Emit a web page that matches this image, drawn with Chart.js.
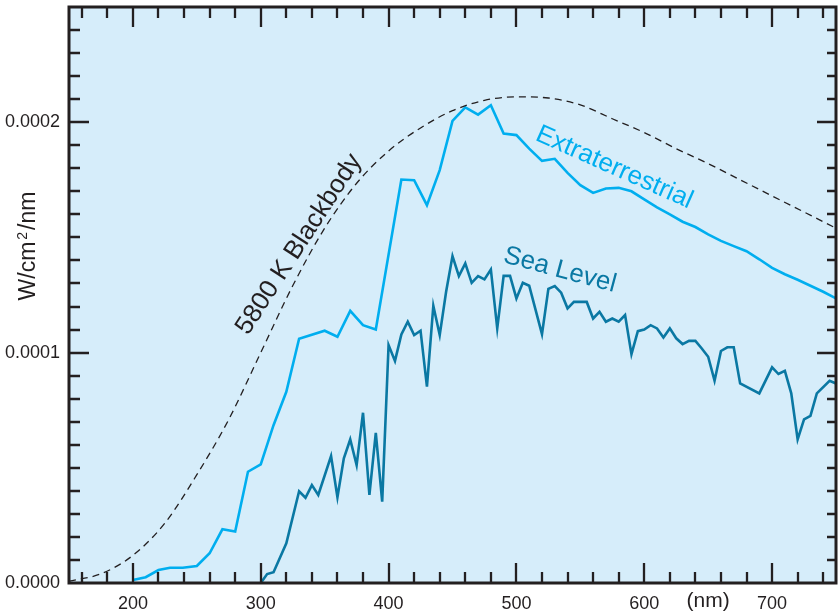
<!DOCTYPE html>
<html>
<head>
<meta charset="utf-8">
<script src="https://cdn.jsdelivr.net/npm/chart.js@4.4.1/dist/chart.umd.min.js"></script>
<style>
  html, body { margin: 0; padding: 0; background: #fff; }
  #wrap { width: 838px; height: 615px; }
</style>
</head>
<body>
<div id="wrap"><canvas id="spectrum" width="838" height="615"></canvas></div>
<script>
// 5800 K blackbody curve (dashed)
const blackbodyNm = [150, 175, 200, 225, 250, 275, 300, 325, 350, 375, 400, 425, 450,
    475, 500, 525, 550, 575, 600, 625, 650, 675, 700, 725, 750];
const blackbodyVal = [0.008e-4, 0.04e-4, 0.12e-4, 0.26e-4, 0.47e-4, 0.71e-4, 1.00e-4, 1.29e-4,
    1.54e-4, 1.735e-4, 1.875e-4, 1.975e-4, 2.05e-4, 2.095e-4, 2.11e-4, 2.105e-4, 2.075e-4,
    2.015e-4, 1.955e-4, 1.885e-4, 1.82e-4, 1.75e-4, 1.68e-4, 1.61e-4, 1.54e-4];

// Extraterrestrial (top of atmosphere) spectrum
const extraNm = [200, 210, 220, 229, 239, 250, 260, 270, 280, 290, 300, 310, 320, 330, 350,
    360, 370, 380, 390, 410, 420, 430, 440, 450, 460, 470, 480, 490, 500, 510, 520, 530,
    540, 550, 560, 570, 580, 590, 600, 610, 620, 630, 640, 650, 660, 670, 680, 690, 700,
    710, 720, 730, 740, 750];
const extraVal = [0.013e-4, 0.025e-4, 0.056e-4, 0.066e-4, 0.066e-4, 0.074e-4, 0.129e-4,
    0.233e-4, 0.223e-4, 0.483e-4, 0.515e-4, 0.685e-4, 0.83e-4, 1.06e-4, 1.095e-4, 1.069e-4,
    1.181e-4, 1.119e-4, 1.10e-4, 1.751e-4, 1.748e-4, 1.64e-4, 1.792e-4, 2.006e-4, 2.064e-4,
    2.033e-4, 2.074e-4, 1.951e-4, 1.944e-4, 1.885e-4, 1.832e-4, 1.841e-4, 1.78e-4, 1.727e-4,
    1.693e-4, 1.712e-4, 1.715e-4, 1.70e-4, 1.665e-4, 1.63e-4, 1.60e-4, 1.568e-4, 1.545e-4,
    1.513e-4, 1.485e-4, 1.462e-4, 1.44e-4, 1.405e-4, 1.368e-4, 1.34e-4, 1.316e-4, 1.29e-4,
    1.264e-4, 1.235e-4];

// Sea level spectrum
const seaNm = [300, 305, 310, 320, 330, 335, 340, 345, 355, 360, 365, 370, 375, 380, 385,
    390, 395, 400, 405, 410, 415, 420, 425, 430, 435, 440, 445, 450, 455, 460, 465, 470,
    475, 480, 485, 490, 495, 500, 505, 510, 520, 525, 530, 535, 540, 545, 555, 560, 565,
    570, 575, 580, 585, 590, 595, 600, 605, 610, 615, 620, 625, 630, 635, 640, 645, 650,
    655, 660, 665, 670, 675, 690, 700, 705, 710, 715, 720, 725, 730, 735, 745, 750];
const seaVal = [0.0, 0.039e-4, 0.047e-4, 0.172e-4, 0.398e-4, 0.37e-4, 0.425e-4, 0.382e-4,
    0.551e-4, 0.372e-4, 0.541e-4, 0.623e-4, 0.512e-4, 0.739e-4, 0.382e-4, 0.652e-4,
    0.353e-4, 1.033e-4, 0.964e-4, 1.079e-4, 1.134e-4, 1.076e-4, 1.095e-4, 0.852e-4,
    1.203e-4, 1.076e-4, 1.264e-4, 1.419e-4, 1.332e-4, 1.387e-4, 1.303e-4, 1.332e-4,
    1.318e-4, 1.361e-4, 1.105e-4, 1.333e-4, 1.333e-4, 1.235e-4, 1.303e-4, 1.29e-4,
    1.08e-4, 1.277e-4, 1.289e-4, 1.26e-4, 1.192e-4, 1.22e-4, 1.22e-4, 1.148e-4, 1.177e-4,
    1.134e-4, 1.148e-4, 1.134e-4, 1.163e-4, 0.993e-4, 1.093e-4, 1.10e-4, 1.119e-4,
    1.105e-4, 1.066e-4, 1.105e-4, 1.062e-4, 1.037e-4, 1.051e-4, 1.051e-4, 1.018e-4,
    0.982e-4, 0.878e-4, 1.007e-4, 1.023e-4, 1.023e-4, 0.866e-4, 0.823e-4, 0.936e-4,
    0.907e-4, 0.921e-4, 0.823e-4, 0.623e-4, 0.71e-4, 0.725e-4, 0.823e-4, 0.878e-4, 0.866e-4];

// axis tick labels
const xTickLabels = [200, 300, 400, 500, 600, 700];
const yTickLabels = [0, 0.0001, 0.0002];

const ink = '#231f20';
const panelBg = '#d6edfa';
const extraColor = '#00aeef';
const seaColor = '#0a78a3';
const fontFamily = "'Liberation Sans', Arial, Helvetica, sans-serif";

const toPoints = (xs, ys) => xs.map((x, i) => ({ x: x, y: ys[i] }));

// background panel, inward ticks, frame and the text labels
const framePlugin = {
    id: 'frame',
    beforeDraw(chart) {
        const { ctx, chartArea: a } = chart;
        ctx.save();
        ctx.fillStyle = panelBg;
        ctx.fillRect(a.left, a.top, a.right - a.left, a.bottom - a.top);
        ctx.restore();
    },
    afterDraw(chart) {
        const { ctx, chartArea: a } = chart;
        const xs = chart.scales.x;
        const ys = chart.scales.y;
        ctx.save();
        ctx.strokeStyle = ink;
        ctx.lineWidth = 2.3;
        ctx.beginPath();
        for (let v = 160; v < 750; v += 20) {
            const px = Math.round(xs.getPixelForValue(v));
            const len = v % 100 === 0 ? 20 : 11;
            ctx.moveTo(px, a.bottom); ctx.lineTo(px, a.bottom - len);
            ctx.moveTo(px, a.top); ctx.lineTo(px, a.top + len);
        }
        for (let i = 1; i < 25; i++) {
            const py = Math.round(ys.getPixelForValue(i * 1e-5));
            const major = i % 10 === 0;
            ctx.moveTo(a.left, py); ctx.lineTo(a.left + (major ? 20 : 11), py);
            ctx.moveTo(a.right, py); ctx.lineTo(a.right - (major ? 19 : 9), py);
        }
        ctx.stroke();

        ctx.lineWidth = 3;
        ctx.strokeRect(a.left, a.top, a.right - a.left, a.bottom - a.top);

        // curve labels
        const label = (text, nm, val, deg, size, color) => {
            ctx.save();
            ctx.translate(xs.getPixelForValue(nm), ys.getPixelForValue(val));
            ctx.rotate(deg * Math.PI / 180);
            ctx.font = size + 'px ' + fontFamily;
            ctx.fillStyle = color;
            ctx.textAlign = 'center';
            ctx.textBaseline = 'middle';
            ctx.fillText(text, 0, 0);
            ctx.restore();
        };
        label('5800 K Blackbody', 330, 1.47e-4, -57, 26, ink);
        label('Extraterrestrial', 576.6, 1.803e-4, 24, 26, extraColor);
        label('Sea Level', 534, 1.358e-4, 15, 26, seaColor);

        // unit on the x axis
        ctx.font = '21px ' + fontFamily;
        ctx.fillStyle = ink;
        ctx.textAlign = 'center';
        ctx.textBaseline = 'middle';
        ctx.fillText('(nm)', xs.getPixelForValue(650), 601);

        // y axis title W/cm²/nm with raised 2
        ctx.save();
        ctx.translate(35, 246);
        ctx.rotate(-Math.PI / 2);
        ctx.textAlign = 'left';
        ctx.textBaseline = 'alphabetic';
        const big = '23px ' + fontFamily;
        const small = '14px ' + fontFamily;
        ctx.font = big;
        const w1 = ctx.measureText('W/cm').width;
        const w3 = ctx.measureText('/nm').width;
        ctx.font = small;
        const w2 = ctx.measureText('2').width + 4;
        let x0 = -(w1 + w2 + w3) / 2;
        ctx.font = big;
        ctx.fillText('W/cm', x0, 0);
        ctx.font = small;
        ctx.fillText('2', x0 + w1 + 2, -8);
        ctx.font = big;
        ctx.fillText('/nm', x0 + w1 + w2, 0);
        ctx.restore();

        ctx.restore();
    }
};

const ctx = document.getElementById('spectrum').getContext('2d');
const spectrumChart = new Chart(ctx, {
    type: 'line',
    data: {
        datasets: [{
            label: '5800 K Blackbody',
            data: toPoints(blackbodyNm, blackbodyVal),
            borderColor: ink,
            borderWidth: 1.3,
            borderDash: [7, 5],
            cubicInterpolationMode: 'monotone',
            pointRadius: 0,
            fill: false
        }, {
            label: 'Extraterrestrial',
            data: toPoints(extraNm, extraVal),
            borderColor: extraColor,
            borderWidth: 2.6,
            tension: 0,
            pointRadius: 0,
            fill: false
        }, {
            label: 'Sea Level',
            data: toPoints(seaNm, seaVal),
            borderColor: seaColor,
            borderWidth: 2.6,
            tension: 0,
            pointRadius: 0,
            fill: false
        }]
    },
    options: {
        responsive: false,
        animation: false,
        devicePixelRatio: 1,
        layout: { autoPadding: false, padding: { top: 7, right: 2, left: 0, bottom: 0 } },
        plugins: { legend: { display: false }, tooltip: { enabled: false } },
        scales: {
            x: {
                type: 'linear',
                min: 150,
                max: 750,
                grid: { display: false, drawTicks: false },
                border: { display: false },
                afterBuildTicks: s => { s.ticks = xTickLabels.map(v => ({ value: v })); },
                afterFit: s => { s.height = 32; s.paddingLeft = 0; s.paddingRight = 0; },
                ticks: {
                    padding: 10,
                    color: ink,
                    font: { family: fontFamily, size: 18 },
                    maxRotation: 0,
                    autoSkip: false,
                    callback: v => String(v)
                }
            },
            y: {
                type: 'linear',
                min: 0,
                max: 0.00025,
                grid: { display: false, drawTicks: false },
                border: { display: false },
                afterBuildTicks: s => { s.ticks = yTickLabels.map(v => ({ value: v })); },
                afterFit: s => { s.width = 69; s.paddingTop = 0; s.paddingBottom = 0; },
                ticks: {
                    padding: 9,
                    color: ink,
                    font: { family: fontFamily, size: 18 },
                    autoSkip: false,
                    callback: v => Number(v).toFixed(4)
                }
            }
        }
    },
    plugins: [framePlugin]
});
</script>
</body>
</html>
